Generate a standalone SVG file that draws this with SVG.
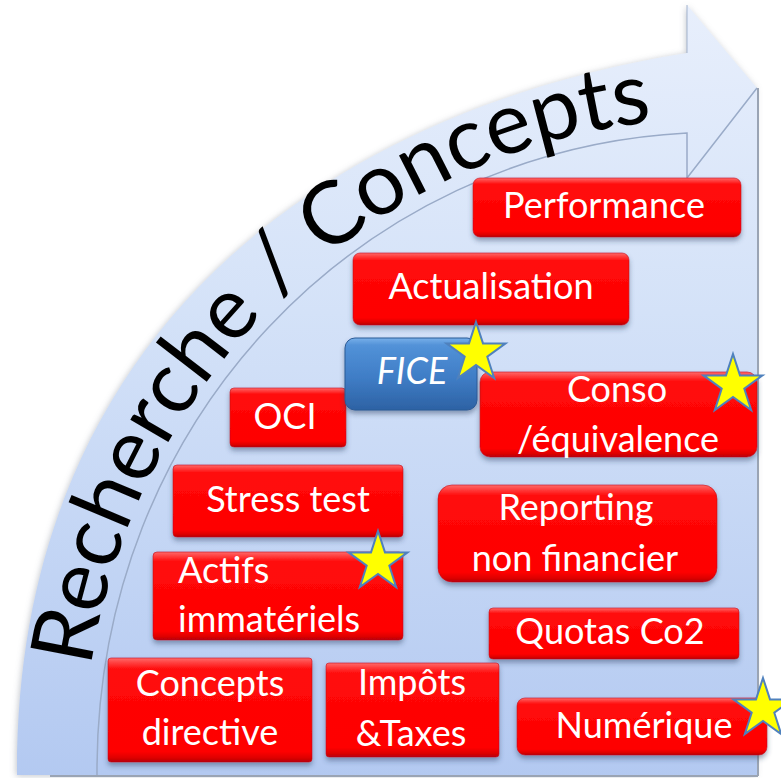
<svg xmlns="http://www.w3.org/2000/svg" xmlns:xlink="http://www.w3.org/1999/xlink" width="781" height="778" viewBox="0 0 781 778">
  <defs>
    <style>
      .box { fill: url(#redFill); stroke: #c3101c; stroke-width: 1; stroke-opacity: 0.6; filter: url(#boxShadow); }
      .boxBlue { fill: url(#blueFill); stroke: #2a5a96; stroke-width: 1; filter: url(#boxShadow); }
      .lbl { font-family: Lato, "Open Sans", "Liberation Sans", sans-serif; font-size: 36px; fill: #ffffff; text-anchor: middle; }
      .lblL { text-anchor: start; }
      .star { fill: #ffff00; stroke: #4f81bd; stroke-width: 2; stroke-linejoin: miter; }
      .title { font-family: Lato, "Open Sans", "Liberation Sans", sans-serif; font-size: 87px; fill: #000000; }
      .edge { fill: none; stroke: #9aabc8; stroke-width: 1.5; }
    </style>
    <linearGradient id="bgFill" gradientUnits="userSpaceOnUse" x1="0" y1="0" x2="0" y2="778">
      <stop offset="0" stop-color="#e8effc"/>
      <stop offset="0.4" stop-color="#d4e2f8"/>
      <stop offset="1" stop-color="#b3c9f1"/>
    </linearGradient>
    <linearGradient id="redFill" x1="0" y1="0" x2="0" y2="1">
      <stop offset="0" stop-color="#ff6a6a"/>
      <stop offset="0.05" stop-color="#ff3c3c"/>
      <stop offset="0.11" stop-color="#ff0a0a"/>
      <stop offset="0.9" stop-color="#fe0000"/>
      <stop offset="0.96" stop-color="#de0000"/>
      <stop offset="1" stop-color="#b5000c"/>
    </linearGradient>
    <linearGradient id="blueFill" x1="0" y1="0" x2="0" y2="1">
      <stop offset="0" stop-color="#79b0ea"/>
      <stop offset="0.1" stop-color="#5292d8"/>
      <stop offset="0.55" stop-color="#3f7dc6"/>
      <stop offset="1" stop-color="#2d62a4"/>
    </linearGradient>
    <filter id="boxShadow" x="-10%" y="-20%" width="120%" height="150%">
      <feDropShadow dx="0" dy="3.5" stdDeviation="2.5" flood-color="#2f3f60" flood-opacity="0.45"/>
    </filter>
    <filter id="bgShadow" x="-5%" y="-5%" width="110%" height="110%">
      <feDropShadow dx="-1" dy="1" stdDeviation="3" flood-color="#7a8290" flood-opacity="0.45"/>
    </filter>
    <filter id="soft" x="-5%" y="-5%" width="110%" height="110%">
      <feGaussianBlur stdDeviation="0.6"/>
    </filter>
    <!-- baseline of the curved title, running up the band -->
    <path id="titleArc" d="M 83,775 C 81,413 355,137 687,119"/>
    <polygon id="starShape" points="0,-31 7.0,-9.6 29.5,-9.6 11.3,3.7 18.2,25.1 0,11.9 -18.2,25.1 -11.3,3.7 -29.5,-9.6 -7.0,-9.6"/>
  </defs>

  <rect width="781" height="778" fill="#ffffff"/>

  <!-- curved arrow band and backdrop -->
  <g id="backdrop">
    <path d="M 17,775 C 15,330 330,110 687,53 L 687,5 L 757,88 L 757,775 Z" fill="url(#bgFill)" filter="url(#bgShadow)"/>
    <path class="edge" filter="url(#soft)" d="M 97,775 C 95,420 360,150 687,133 L 687,178 L 757,88"/>
    <path class="edge" stroke-opacity="0.6" d="M 687,5 L 687,53"/>
    <line x1="758" y1="88" x2="758" y2="776" stroke="#9aa4b4" stroke-width="2"/>
    <line x1="50" y1="776" x2="758" y2="776" stroke="#9aa4b4" stroke-width="2"/>
  </g>

  <g id="title">
    <text class="title"><textPath xlink:href="#titleArc" href="#titleArc" startOffset="108">Recherche / Concepts</textPath></text>
  </g>

  <g id="node-performance">
    <rect class="box" x="473" y="178" width="268" height="59" rx="7"/>
    <text class="lbl" x="604" y="218">Performance</text>
  </g>

  <g id="node-actualisation">
    <rect class="box" x="353" y="253" width="276" height="72" rx="7"/>
    <text class="lbl" x="491" y="299">Actualisation</text>
  </g>

  <g id="node-oci">
    <rect class="box" x="230" y="388" width="116" height="59" rx="4"/>
    <text class="lbl" x="285" y="429">OCI</text>
  </g>

  <g id="node-conso">
    <rect class="box" x="480" y="372" width="277" height="85" rx="10"/>
    <text class="lbl" x="617" y="402">Conso</text>
    <text class="lbl" x="618" y="452">/équivalence</text>
    <use href="#starShape" xlink:href="#starShape" class="star" transform="translate(733,385)"/>
  </g>

  <g id="node-fice">
    <rect class="boxBlue" x="345" y="338" width="132" height="72" rx="10"/>
    <text class="lbl" x="412" y="384" font-style="italic">FICE</text>
    <use href="#starShape" xlink:href="#starShape" class="star" transform="translate(476,353)"/>
  </g>

  <g id="node-stress-test">
    <rect class="box" x="173" y="465" width="230" height="72" rx="4"/>
    <text class="lbl" x="288" y="512">Stress test</text>
  </g>

  <g id="node-reporting">
    <rect class="box" x="438" y="485" width="279" height="97" rx="14"/>
    <text class="lbl" x="576" y="520">Reporting</text>
    <text class="lbl" x="575" y="571">non financier</text>
  </g>

  <g id="node-actifs">
    <rect class="box" x="153" y="552" width="250" height="88" rx="4"/>
    <text class="lbl lblL" x="178" y="583">Actifs</text>
    <text class="lbl lblL" x="178" y="632">immatériels</text>
    <use href="#starShape" xlink:href="#starShape" class="star" transform="translate(378,562)"/>
  </g>

  <g id="node-quotas">
    <rect class="box" x="489" y="608" width="250" height="51" rx="4"/>
    <text class="lbl" x="610" y="644">Quotas Co2</text>
  </g>

  <g id="node-concepts-directive">
    <rect class="box" x="108" y="658" width="204" height="104" rx="3"/>
    <text class="lbl" x="210" y="696">Concepts</text>
    <text class="lbl" x="210" y="745">directive</text>
  </g>

  <g id="node-impots">
    <rect class="box" x="326" y="663" width="173" height="94" rx="3"/>
    <text class="lbl" x="412" y="695">Impôts</text>
    <text class="lbl" x="411" y="746">&amp;Taxes</text>
  </g>

  <g id="node-numerique">
    <rect class="box" x="517" y="698" width="250" height="57" rx="8"/>
    <text class="lbl" x="644" y="738">Numérique</text>
    <use href="#starShape" xlink:href="#starShape" class="star" transform="translate(763,709)"/>
  </g>
</svg>
